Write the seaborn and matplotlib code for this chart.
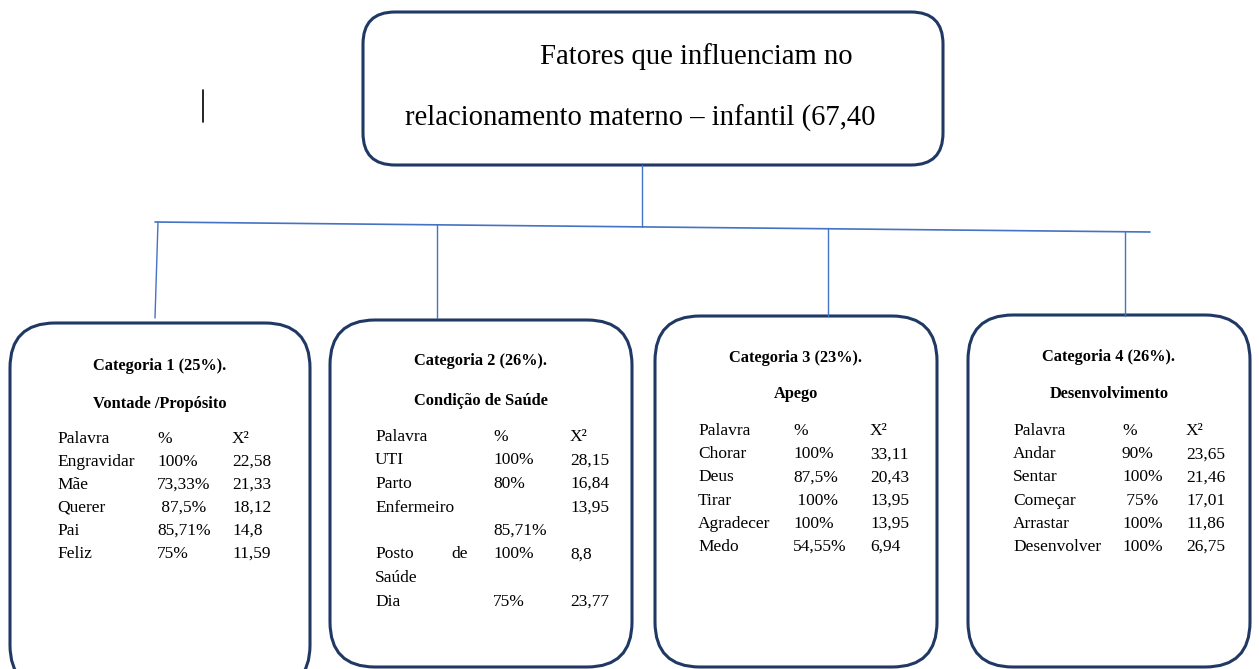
import matplotlib

matplotlib.use("Agg")
import matplotlib.pyplot as plt
import seaborn as sns
from matplotlib.patches import FancyBboxPatch

# ---- data ----
title_lines = ["Fatores que influenciam no", "relacionamento materno \u2013 infantil (67,40"]

cat_titles = ["Categoria 1 (25%).", "Categoria 2 (26%).", "Categoria 3 (23%).", "Categoria 4 (26%)."]
cat_names = ["Vontade /Propósito", "Condição de Saúde", "Apego", "Desenvolvimento"]
header = ["Palavra", "%", "X\u00b2"]

words_1 = ["Engravidar", "Mãe", "Querer", "Pai", "Feliz"]
pct_1 = ["100%", "73,33%", " 87,5%", "85,71%", "75%"]
chi_1 = ["22,58", "21,33", "18,12", "14,8", "11,59"]

words_2 = ["UTI", "Parto", "Enfermeiro", "Posto de Saúde", "Dia"]
pct_2 = ["100%", "80%", "85,71%", "100%", "75%"]
chi_2 = ["28,15", "16,84", "13,95", "8,8", "23,77"]

words_3 = ["Chorar", "Deus", "Tirar", "Agradecer", "Medo"]
pct_3 = ["100%", "87,5%", " 100%", "100%", "54,55%"]
chi_3 = ["33,11", "20,43", "13,95", "13,95", "6,94"]

words_4 = ["Andar", "Sentar", "Começar", "Arrastar", "Desenvolver"]
pct_4 = ["90%", "100%", " 75%", "100%", "100%"]
chi_4 = ["23,65", "21,46", "17,01", "11,86", "26,75"]

tables = [(words_1, pct_1, chi_1), (words_2, pct_2, chi_2),
          (words_3, pct_3, chi_3), (words_4, pct_4, chi_4)]

# ---- layout (pixel coords, y down) ----
boxes = [
    dict(x0=10, x1=310, y0=323, y1=690, ty=365, sy=403, hy=438, step=23.0, cols=(57, 157, 232)),
    dict(x0=330, x1=632, y0=320, y1=667, ty=360, sy=400, hy=436, step=23.5, cols=(375, 493, 570)),
    dict(x0=655, x1=937, y0=316, y1=667, ty=357, sy=393, hy=430, step=23.2, cols=(698, 793, 870)),
    dict(x0=968, x1=1250, y0=315, y1=667, ty=356, sy=393, hy=430, step=23.2, cols=(1013, 1122, 1186)),
]
drops = [((158, 222), (155, 318)), ((437, 225), (437, 318)),
         ((828, 228), (828, 316)), ((1125, 232), (1125, 316))]

NAVY = "#1f3864"
BLUE = "#4472c4"

sns.set_theme(style="white")
plt.rcParams["font.family"] = ["Liberation Serif", "DejaVu Serif"]
plt.rcParams["text.color"] = "black"

fig = plt.figure(figsize=(12.59, 6.69), dpi=100)
ax = fig.add_axes([0, 0, 1, 1])
ax.set_xlim(0, 1259)
ax.set_ylim(669, 0)
ax.axis("off")


def put(x, y, s, **kw):
    # baseline-aligned text, y given as the visual middle of the line
    kw.setdefault("fontsize", 12.5)
    ax.text(x, y + 5, s, ha=kw.pop("ha", "left"), va="baseline", color="black", **kw)


# top box
ax.add_patch(FancyBboxPatch((363, 12), 580, 153, boxstyle="round,pad=0,rounding_size=32",
                            fc="white", ec=NAVY, lw=2.2))
ax.text(540, 64, title_lines[0], fontsize=20.6, ha="left", va="baseline", color="black")
ax.text(405, 126, title_lines[1], fontsize=20.6, ha="left", va="baseline", color="black")

# stray cursor mark
ax.plot([203, 203], [90, 122], color="black", lw=1.2)

# connectors
ax.plot([642, 642], [165, 227], color=BLUE, lw=1)
ax.plot([155, 1150], [222, 232], color=BLUE, lw=1.2)
for (xa, ya), (xb, yb) in drops:
    ax.plot([xa, xb], [ya, yb], color=BLUE, lw=1)

for b, t, n, (words, pcts, chis) in zip(boxes, cat_titles, cat_names, tables):
    ax.add_patch(FancyBboxPatch((b["x0"], b["y0"]), b["x1"] - b["x0"], b["y1"] - b["y0"],
                                boxstyle="round,pad=0,rounding_size=45",
                                fc="white", ec=NAVY, lw=2.2))
    cx = (b["x0"] + b["x1"]) / 2
    put(cx, b["ty"], t, fontsize=11.8, fontweight="bold", ha="center")
    put(cx, b["sy"], n, fontsize=11.8, fontweight="bold", ha="center")
    c0, c1, c2 = b["cols"]
    for x, h in zip(b["cols"], header):
        put(x, b["hy"], h)
    line = 1
    for w, p, c in zip(words, pcts, chis):
        y = b["hy"] + line * b["step"]
        if w == "Enfermeiro":
            # percent wrapped to the next line, as in the source document
            put(c0, y, w)
            put(c2, y, c)
            put(c1, y + b["step"], p)
            line += 2
            continue
        if w == "Posto de Saúde":
            put(c0, y, "Posto")
            put(c1 - 25, y, "de", ha="right")
            put(c0, y + b["step"], "Saúde")
            put(c1, y, p)
            put(c2, y, c)
            line += 2
            continue
        put(c0, y, w)
        put(c1, y, p)
        put(c2, y, c)
        line += 1

fig.savefig("out.png", dpi=100, facecolor="white")
